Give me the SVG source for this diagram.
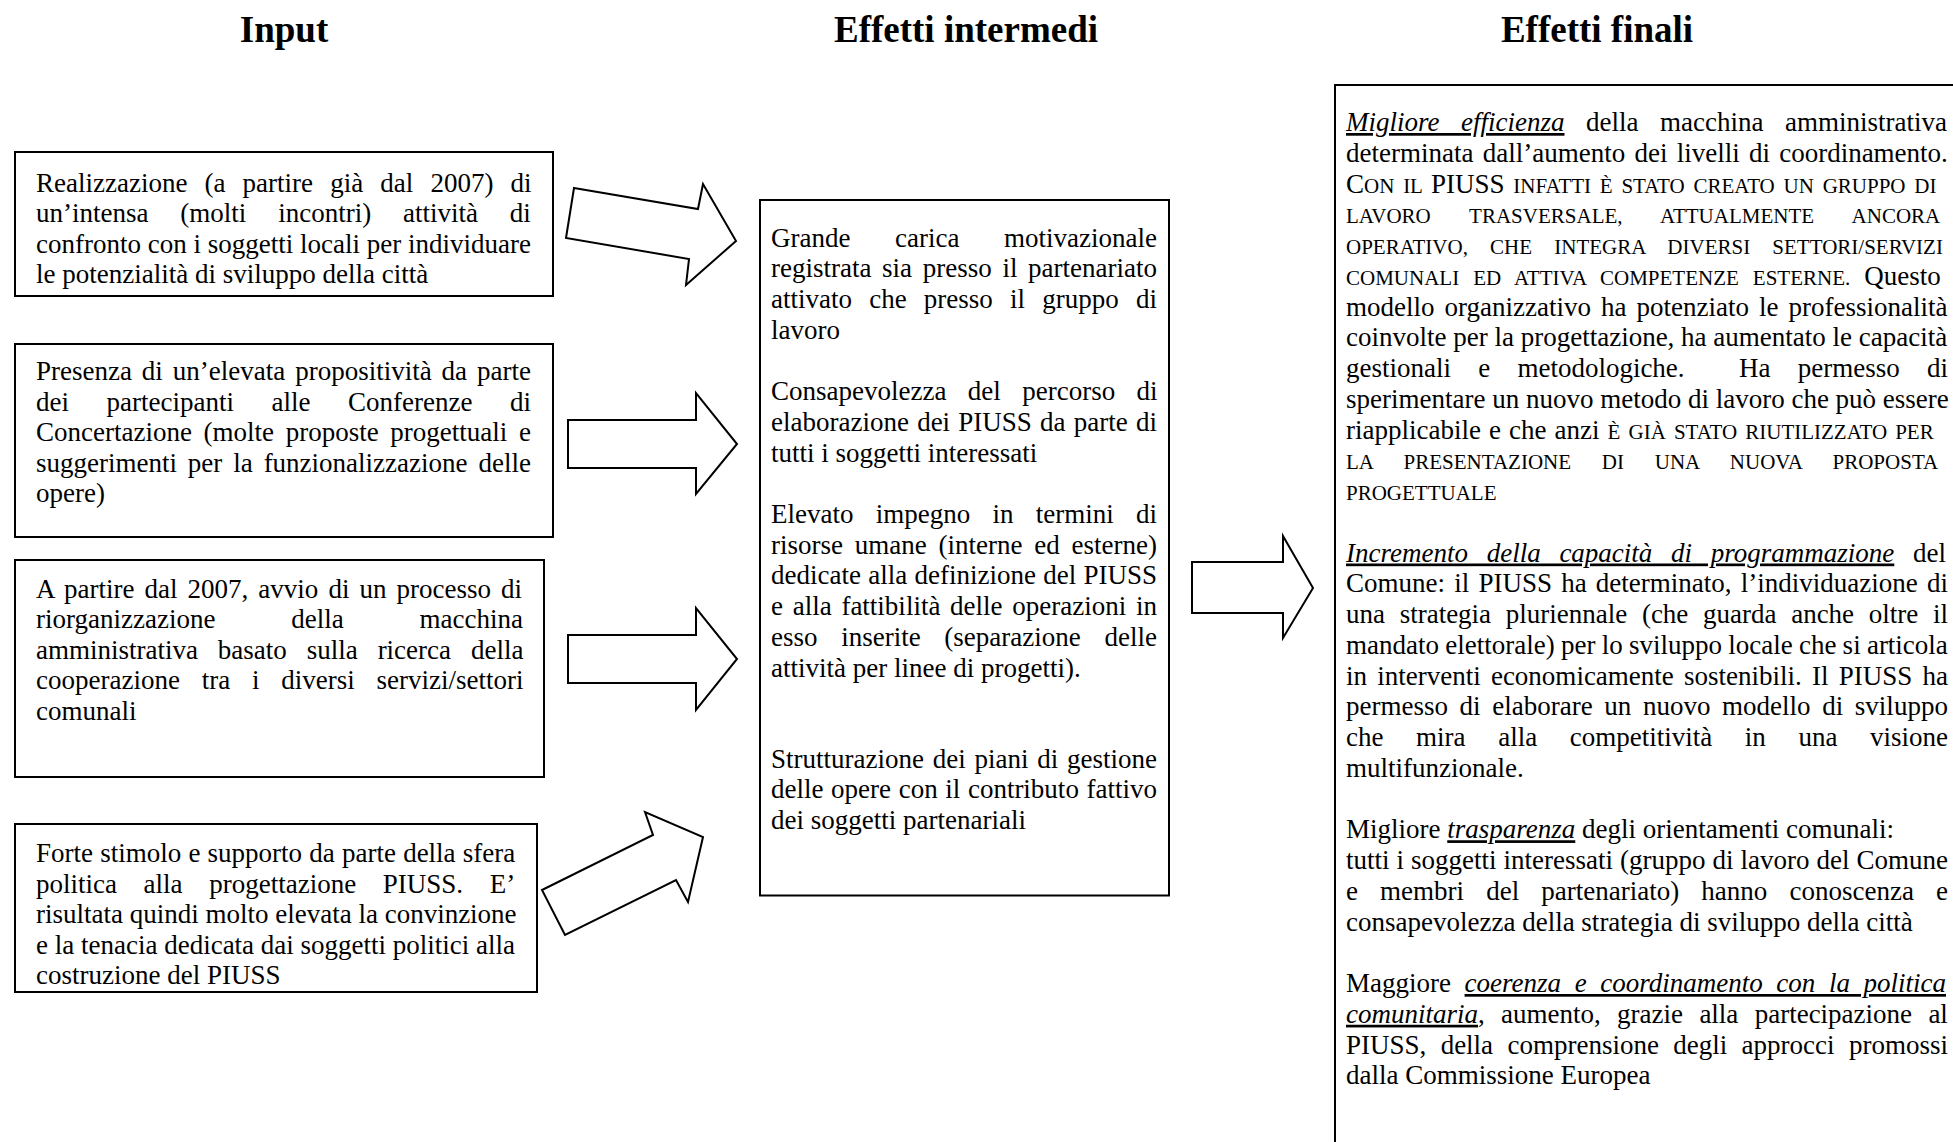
<svg xmlns="http://www.w3.org/2000/svg" width="1953" height="1142" viewBox="0 0 1953 1142">
<style>
.title{font-family:"Liberation Serif","Times New Roman",serif;font-weight:bold;font-size:37px;text-anchor:middle;fill:#000}
.t{font-family:"Liberation Serif","Times New Roman",serif;font-size:27px;fill:#000}
.sc{font-size:21px}
.it{font-style:italic}
.u{text-decoration:underline}
.box{fill:#fff;stroke:#000;stroke-width:2}
.arrow{fill:#fff;stroke:#000;stroke-width:2;stroke-linejoin:miter}
</style>
<rect x="0" y="0" width="1953" height="1142" fill="#fff"/>
<g id="titles">
<text class="title" x="284" y="42">Input</text>
<text class="title" x="966" y="42">Effetti intermedi</text>
<text class="title" x="1597" y="42">Effetti finali</text>
</g>
<g id="input-1">
<rect class="box" x="15" y="152" width="538" height="144"/>
<text class="t" x="36" y="191.5" style="word-spacing:10.37px">Realizzazione (a partire già dal 2007) di</text>
<text class="t" x="36" y="222" style="word-spacing:25.1px">un’intensa (molti incontri) attività di</text>
<text class="t" x="36" y="252.5">confronto con i soggetti locali per individuare</text>
<text class="t" x="36" y="283">le potenzialità di sviluppo della città</text>
</g>
<g id="input-2">
<rect class="box" x="15" y="344" width="538" height="193"/>
<text class="t" x="36" y="380" style="word-spacing:3.17px">Presenza di un’elevata propositività da parte</text>
<text class="t" x="36" y="410.5" style="word-spacing:30.8px">dei partecipanti alle Conferenze di</text>
<text class="t" x="36" y="441" style="word-spacing:4.9px">Concertazione (molte proposte progettuali e</text>
<text class="t" x="36" y="471.5" style="word-spacing:4.15px">suggerimenti per la funzionalizzazione delle</text>
<text class="t" x="36" y="502">opere)</text>
</g>
<g id="input-3">
<rect class="box" x="15" y="560" width="529" height="217"/>
<text class="t" x="36" y="597.5" style="word-spacing:3.29px">A partire dal 2007, avvio di un processo di</text>
<text class="t" x="36" y="628" style="word-spacing:69.05px">riorganizzazione della macchina</text>
<text class="t" x="36" y="658.5" style="word-spacing:13.15px">amministrativa basato sulla ricerca della</text>
<text class="t" x="36" y="689" style="word-spacing:15.03px">cooperazione tra i diversi servizi/settori</text>
<text class="t" x="36" y="719.5">comunali</text>
</g>
<g id="input-4">
<rect class="box" x="15" y="824" width="522" height="168"/>
<text class="t" x="36" y="862" style="word-spacing:0.45px">Forte stimolo e supporto da parte della sfera</text>
<text class="t" x="36" y="892.5" style="word-spacing:19.9px">politica alla progettazione PIUSS. E’</text>
<text class="t" x="36" y="923">risultata quindi molto elevata la convinzione</text>
<text class="t" x="36" y="953.5">e la tenacia dedicata dai soggetti politici alla</text>
<text class="t" x="36" y="984">costruzione del PIUSS</text>
</g>
<g id="effetti-intermedi">
<rect class="box" x="760" y="200" width="409" height="695.5"/>
<text class="t" x="771" y="246.7" style="word-spacing:37.8px">Grande carica motivazionale</text>
<text class="t" x="771" y="277.4" style="word-spacing:3.9px">registrata sia presso il partenariato</text>
<text class="t" x="771" y="308.1" style="word-spacing:10.45px">attivato che presso il gruppo di</text>
<text class="t" x="771" y="338.8">lavoro</text>
<text class="t" x="771" y="400.2" style="word-spacing:14.65px">Consapevolezza del percorso di</text>
<text class="t" x="771" y="430.9" style="word-spacing:1.47px">elaborazione dei PIUSS da parte di</text>
<text class="t" x="771" y="461.6">tutti i soggetti interessati</text>
<text class="t" x="771" y="523" style="word-spacing:15.5px">Elevato impegno in termini di</text>
<text class="t" x="771" y="553.7" style="word-spacing:5.03px">risorse umane (interne ed esterne)</text>
<text class="t" x="771" y="584.4" style="word-spacing:0.52px">dedicate alla definizione del PIUSS</text>
<text class="t" x="771" y="615.1" style="word-spacing:2.97px">e alla fattibilità delle operazioni in</text>
<text class="t" x="771" y="645.8" style="word-spacing:16.95px">esso inserite (separazione delle</text>
<text class="t" x="771" y="676.5">attività per linee di progetti).</text>
<text class="t" x="771" y="767.6" style="word-spacing:2px">Strutturazione dei piani di gestione</text>
<text class="t" x="771" y="798.3" style="word-spacing:0.87px">delle opere con il contributo fattivo</text>
<text class="t" x="771" y="829">dei soggetti partenariali</text>
</g>
<g id="effetti-finali">
<rect class="box" x="1335" y="85" width="700" height="1200"/>
<text class="t" x="1346" y="131" style="word-spacing:14.8px"><tspan class="it u">Migliore efficienza</tspan> della macchina amministrativa</text>
<text class="t" x="1346" y="161.75" style="word-spacing:2.51px">determinata dall’aumento dei livelli di coordinamento.</text>
<text class="t" x="1346" y="192.5" style="word-spacing:3.53px">C<tspan class="sc">ON IL </tspan>PIUSS<tspan class="sc"> INFATTI È STATO CREATO UN GRUPPO DI</tspan></text>
<text class="t sc" x="1346" y="223.25" style="word-spacing:33.45px">LAVORO TRASVERSALE, ATTUALMENTE ANCORA</text>
<text class="t sc" x="1346" y="254" style="word-spacing:16.9px">OPERATIVO, CHE INTEGRA DIVERSI SETTORI/SERVIZI</text>
<text class="t" x="1346" y="284.75" style="word-spacing:8.77px"><tspan class="sc">COMUNALI ED ATTIVA COMPETENZE ESTERNE. </tspan>Questo</text>
<text class="t" x="1346" y="315.5" style="word-spacing:3.27px">modello organizzativo ha potenziato le professionalità</text>
<text class="t" x="1346" y="346.25">coinvolte per la progettazione, ha aumentato le capacità</text>
<text class="t" y="377"><tspan x="1346">gestionali</tspan><tspan x="1478.2">e</tspan><tspan x="1517.4">metodologiche.</tspan><tspan x="1739">Ha</tspan><tspan x="1797.7">permesso</tspan><tspan x="1926.9">di</tspan></text>
<text class="t" x="1346" y="407.75">sperimentare un nuovo metodo di lavoro che può essere</text>
<text class="t" x="1346" y="438.5" style="word-spacing:1.31px">riapplicabile e che anzi <tspan class="sc" style="word-spacing:2.81px">È GIÀ STATO RIUTILIZZATO PER</tspan></text>
<text class="t sc" x="1346" y="469.25" style="word-spacing:25.5px">LA PRESENTAZIONE DI UNA NUOVA PROPOSTA</text>
<text class="t sc" x="1346" y="500">PROGETTUALE</text>
<text class="t" x="1346" y="561.5" style="word-spacing:11.97px"><tspan class="it u">Incremento della capacità di programmazione</tspan> del</text>
<text class="t" x="1346" y="592.25" style="word-spacing:2.46px">Comune: il PIUSS ha determinato, l’individuazione di</text>
<text class="t" x="1346" y="623" style="word-spacing:7.92px">una strategia pluriennale (che guarda anche oltre il</text>
<text class="t" x="1346" y="653.75" style="word-spacing:-0.49px">mandato elettorale) per lo sviluppo locale che si articola</text>
<text class="t" x="1346" y="684.5" style="word-spacing:3.47px">in interventi economicamente sostenibili. Il PIUSS ha</text>
<text class="t" x="1346" y="715.25" style="word-spacing:4.89px">permesso di elaborare un nuovo modello di sviluppo</text>
<text class="t" x="1346" y="746" style="word-spacing:25.85px">che mira alla competitività in una visione</text>
<text class="t" x="1346" y="776.75">multifunzionale.</text>
<text class="t" x="1346" y="838.25">Migliore <tspan class="it u">trasparenza</tspan> degli orientamenti comunali:</text>
<text class="t" x="1346" y="869" style="word-spacing:0.25px">tutti i soggetti interessati (gruppo di lavoro del Comune</text>
<text class="t" x="1346" y="899.75" style="word-spacing:15.37px">e membri del partenariato) hanno conoscenza e</text>
<text class="t" x="1346" y="930.5">consapevolezza della strategia di sviluppo della città</text>
<text class="t" x="1346" y="992" style="word-spacing:6.85px">Maggiore <tspan class="it u">coerenza e coordinamento con la politica</tspan></text>
<text class="t" x="1346" y="1022.75" style="word-spacing:9.57px"><tspan class="it u">comunitaria</tspan>, aumento, grazie alla partecipazione al</text>
<text class="t" x="1346" y="1053.5" style="word-spacing:7.6px">PIUSS, della comprensione degli approcci promossi</text>
<text class="t" x="1346" y="1084.25">dalla Commissione Europea</text>
</g>
<g id="connectors">
<polygon class="arrow" points="574,188 698,209 703,184 736,241 686,285 689,259 566,238"/>
<polygon class="arrow" points="568,420 696,420 696,393 737,444 696,494 696,468 568,468"/>
<polygon class="arrow" points="568,635 696,635 696,608 737,659 696,710 696,683 568,683"/>
<polygon class="arrow" points="542,890 653,835 645,812 703,837 688,902 676,880 565,935"/>
<polygon class="arrow" points="1192,562 1283,562 1283,536 1313,588 1283,638 1283,613 1192,613"/>
</g>
</svg>
